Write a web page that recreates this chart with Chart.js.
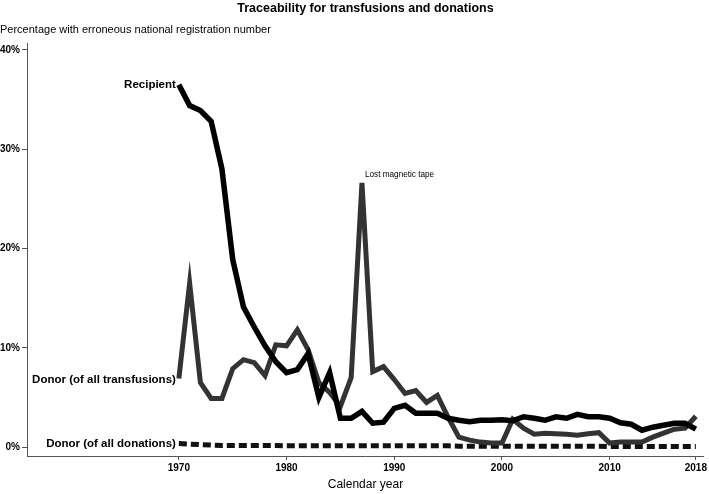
<!DOCTYPE html>
<html>
<head>
<meta charset="utf-8">
<script src="https://cdn.jsdelivr.net/npm/chart.js@4"></script>
<style>
  body { margin: 0; background: #fff; }
  canvas { display: block; }
</style>
</head>
<body>
<canvas id="traceChart" width="709" height="494"></canvas>
<script>
// --------------------------------------------------- DATA
const years = [
  1970, 1971, 1972, 1973, 1974, 1975, 1976, 1977, 1978, 1979,
  1980, 1981, 1982, 1983, 1984, 1985, 1986, 1987, 1988, 1989,
  1990, 1991, 1992, 1993, 1994, 1995, 1996, 1997, 1998, 1999,
  2000, 2001, 2002, 2003, 2004, 2005, 2006, 2007, 2008, 2009,
  2010, 2011, 2012, 2013, 2014, 2015, 2016, 2017, 2018
]

const recipient = [
  36.5, 34.4, 33.9, 32.8, 28.0, 18.9, 14.1, 12.1, 10.2, 8.6,
  7.5, 7.8, 9.4, 5.0, 7.5, 2.9, 2.9, 3.6, 2.4, 2.5,
  3.9, 4.2, 3.4, 3.4, 3.4, 2.9, 2.7, 2.55, 2.7, 2.7,
  2.75, 2.65, 3.05, 2.9, 2.7, 3.05, 2.9, 3.3, 3.05, 3.05,
  2.9, 2.45, 2.3, 1.7, 2.0, 2.2, 2.4, 2.4, 1.8
]

const donorTransfusions = [
  6.9, 16.5, 6.5, 4.9, 4.9, 7.9, 8.8, 8.5, 7.2, 10.3,
  10.2, 11.8, 9.8, 6.5, 5.5, 4.1, 7.0, 26.6, 7.6, 8.1,
  6.8, 5.4, 5.7, 4.5, 5.2, 3.0, 1.0, 0.7, 0.5, 0.4,
  0.4, 2.8, 1.9, 1.3, 1.4, 1.35, 1.3, 1.2, 1.35, 1.45,
  0.4, 0.5, 0.5, 0.5, 1.0, 1.4, 1.8, 1.9, 3.1
]

const donorDonations = [
  0.35, 0.3, 0.25, 0.2, 0.15, 0.15, 0.15, 0.15, 0.15, 0.15,
  0.12, 0.12, 0.12, 0.12, 0.12, 0.12, 0.12, 0.12, 0.12, 0.12,
  0.12, 0.12, 0.12, 0.12, 0.12, 0.12, 0.08, 0.08, 0.08, 0.08,
  0.08, 0.08, 0.08, 0.08, 0.08, 0.08, 0.08, 0.08, 0.08, 0.08,
  0.05, 0.05, 0.05, 0.05, 0.05, 0.05, 0.05, 0.05, 0.05
]

const xTicks = [1970, 1980, 1990, 2000, 2010, 2018]
const yTicks = [0, 10, 20, 30, 40]

const seriesNames = ['Recipient', 'Donor (of all transfusions)', 'Donor (of all donations)']
const chartTitle = 'Traceability for transfusions and donations'
const yTitle = 'Percentage with erroneous national registration number'
const xTitle = 'Calendar year'
const peakNote = 'Lost magnetic tape'

// --------------------------------------------------- HELPERS
function toPoints(values) {
  return values.map((v, i) => ({ x: years[i], y: v }))
}

const fontFamily = '"Liberation Sans", Arial, Helvetica, sans-serif'

// draws the title, axis titles and line labels
const textPlugin = {
  id: 'textPlugin',
  afterDraw(chart) {
    const ctx = chart.ctx
    const xs = chart.scales.x
    const ys = chart.scales.y
    const area = chart.chartArea
    ctx.save()
    ctx.fillStyle = '#000'
    ctx.textBaseline = 'middle'

    ctx.font = 'bold 12.5px ' + fontFamily
    ctx.textAlign = 'center'
    ctx.fillText(chartTitle, (area.left + area.right) / 2, 9)

    ctx.font = '11px ' + fontFamily
    ctx.textAlign = 'left'
    ctx.fillText(yTitle, 0, 30)

    ctx.font = '12px ' + fontFamily
    ctx.textAlign = 'center'
    ctx.fillText(xTitle, (area.left + area.right) / 2, 485)

    // series labels at the start of each line
    ctx.font = 'bold 11.5px ' + fontFamily
    ctx.textAlign = 'right'
    const startX = xs.getPixelForValue(years[0]) - 3
    ctx.fillText(seriesNames[0], startX, ys.getPixelForValue(recipient[0]))
    ctx.fillText(seriesNames[1], startX, ys.getPixelForValue(donorTransfusions[0]) + 1.5)
    ctx.fillText(seriesNames[2], startX, ys.getPixelForValue(donorDonations[0]))

    // note at the donor peak
    const peak = donorTransfusions.indexOf(Math.max(...donorTransfusions))
    ctx.font = '8.2px ' + fontFamily
    ctx.textAlign = 'left'
    ctx.fillText(peakNote, xs.getPixelForValue(years[peak]) + 3, ys.getPixelForValue(donorTransfusions[peak]) - 8)
    ctx.restore()
  }
}

// --------------------------------------------------- CHART
const traceChart = new Chart(document.getElementById('traceChart'), {
  type: 'line',
  data: {
    datasets: [
      {
        label: seriesNames[0],
        data: toPoints(recipient),
        borderColor: '#000',
        borderWidth: 5.5,
        pointRadius: 0
      },
      {
        label: seriesNames[1],
        data: toPoints(donorTransfusions),
        borderColor: '#333',
        borderWidth: 5,
        pointRadius: 0
      },
      {
        label: seriesNames[2],
        data: toPoints(donorDonations),
        borderColor: '#111',
        borderWidth: 5,
        borderDash: [8, 4],
        pointRadius: 0
      }
    ]
  },
  options: {
    responsive: false,
    animation: false,
    devicePixelRatio: 1,
    layout: { padding: { top: 43, right: 4, left: 0, bottom: 0 } },
    plugins: {
      legend: { display: false },
      title: { display: false },
      tooltip: { enabled: false }
    },
    scales: {
      x: {
        type: 'linear',
        min: 1955.9,
        max: 2018.75,
        afterBuildTicks: scale => { scale.ticks = xTicks.map(v => ({ value: v })) },
        afterFit: scale => { scale.height = 38 },
        ticks: {
          color: '#000',
          font: { family: fontFamily, size: 10, weight: 'bold' },
          padding: 2,
          maxRotation: 0,
          callback: v => String(v)
        },
        grid: { display: true, drawOnChartArea: false, tickLength: 4, color: '#555' },
        border: { color: '#555', width: 1 }
      },
      y: {
        min: -0.9,
        max: 40.7,
        afterBuildTicks: scale => { scale.ticks = yTicks.map(v => ({ value: v })) },
        afterFit: scale => { scale.width = 27 },
        ticks: {
          color: '#000',
          font: { family: fontFamily, size: 10, weight: 'bold' },
          padding: 2,
          callback: v => v + '%'
        },
        grid: { display: true, drawOnChartArea: false, tickLength: 5, color: '#555' },
        border: { color: '#555', width: 1 }
      }
    }
  },
  plugins: [textPlugin]
})
</script>
</body>
</html>
